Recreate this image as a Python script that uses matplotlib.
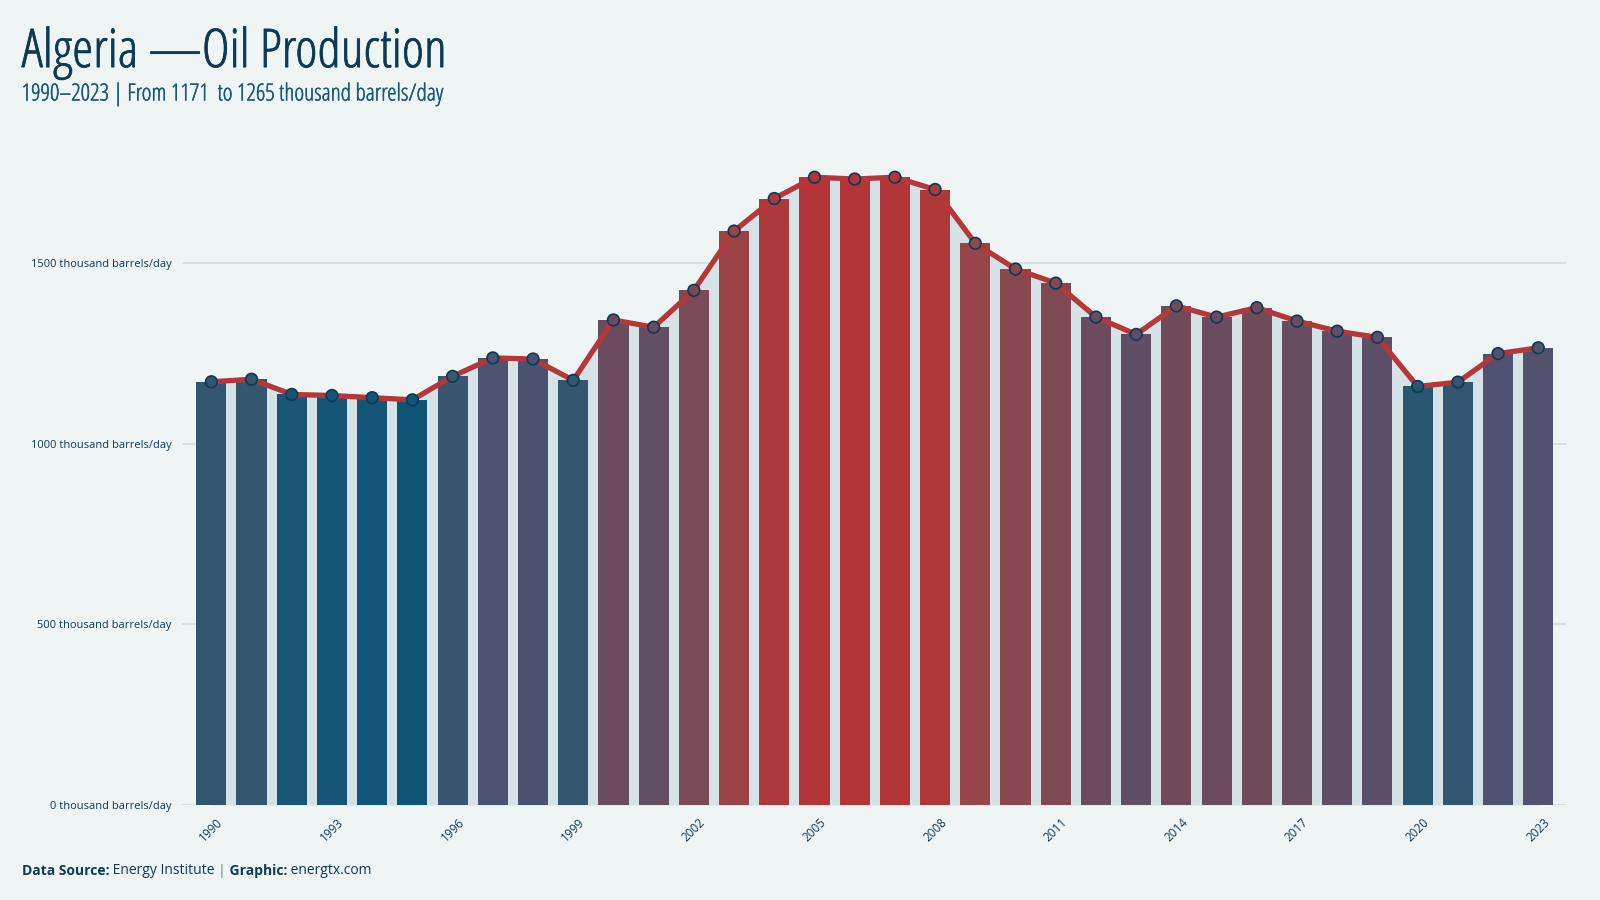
import matplotlib
matplotlib.use("Agg")
import matplotlib.pyplot as plt
import matplotlib.patheffects as pe
from matplotlib.colors import LinearSegmentedColormap, Normalize

# data
years = list(range(1990, 2024))
production = [1171, 1178, 1136, 1133, 1127, 1121, 1186, 1237, 1234, 1175,
              1342, 1322, 1424, 1588, 1678, 1737, 1732, 1737, 1703, 1554,
              1483, 1444, 1350, 1302, 1381, 1350, 1376, 1339, 1311, 1294,
              1158, 1170, 1249, 1265]
y_ticks = [0, 500, 1000, 1500]
y_tick_labels = [f"{v} thousand barrels/day" for v in y_ticks]
x_ticks = years[::3]

BG = "#eff5f5"
NAVY = "#0d3b56"
RED = "#b5373a"

plt.rcParams['font.family'] = ['Open Sans', 'DejaVu Sans']

# blue -> red, measured off the bars
cmap = LinearSegmentedColormap.from_list("oil", [
    (0.0, "#0e5578"), (0.08, "#33566f"), (0.2, "#4d5370"),
    (0.35, "#684d5f"), (0.7, "#964549"), (1.0, "#b43538")])
norm = Normalize(min(production), max(production))
colors = [cmap(norm(v)) for v in production]

fig = plt.figure(figsize=(16, 9), dpi=100, facecolor=BG)
ax = fig.add_axes([0.114, 0.1056, 0.865, 0.728])
ax.set_facecolor(BG)

for y in y_ticks:
    ax.axhline(y, color="#d5e0e4", lw=1.5, zorder=0)

# light area under the line, behind the bars
ax.fill_between(years, production, 0, color="#d5e2e6", lw=0, zorder=1)
ax.bar(years, production, width=0.75, color=colors, zorder=2)
ax.plot(years, production, color=RED, lw=3.8, zorder=3, solid_capstyle="round")
ax.scatter(years, production, s=70, c=colors, edgecolors="#0b3a55",
           linewidths=1.2, zorder=4)

ax.set_xlim(1989.28, 2023.7)
ax.set_ylim(0, 1813)
ax.set_yticks(y_ticks)
ax.set_yticklabels(y_tick_labels, fontsize=8, color=NAVY)
ax.set_xticks(x_ticks)
ax.set_xticklabels([str(x) for x in x_ticks], rotation=45, fontsize=8.5,
                   color=NAVY, ha="center", va="top")
ax.tick_params(length=0)
ax.tick_params(axis="x", pad=8)
ax.tick_params(axis="y", pad=8)
for s in ax.spines.values():
    s.set_visible(False)

# condensed font is light, thicken it a little with a stroke
fig.text(0.0135, 0.941, "Algeria —Oil Production", fontsize=38.5,
         color=NAVY, va="center", fontstretch="condensed",
         path_effects=[pe.withStroke(linewidth=0.5, foreground=NAVY)])
fig.text(0.0135, 0.895, "1990–2023 | From 1171  to 1265 thousand barrels/day",
         fontsize=17, color="#1a5878", va="center", fontstretch="condensed",
         path_effects=[pe.withStroke(linewidth=0.3, foreground="#1a5878")])

# footer: bold / regular pieces chained one after another
prev = fig.text(0.0135, 0.032, "Data Source:", fontsize=10, fontweight="bold",
                color=NAVY, va="center")
parts = [(" Energy Institute ", "normal", NAVY), ("|", "bold", "#8fa9b8"),
         (" Graphic:", "bold", NAVY), (" energtx.com", "normal", NAVY)]
for txt, w, c in parts:
    prev = ax.annotate(txt, xy=(1, 0), xycoords=prev, xytext=(0, 0),
                       textcoords="offset points", fontsize=10, fontweight=w,
                       color=c, va="bottom", annotation_clip=False)

fig.savefig("out.png", dpi=100, facecolor=BG)
